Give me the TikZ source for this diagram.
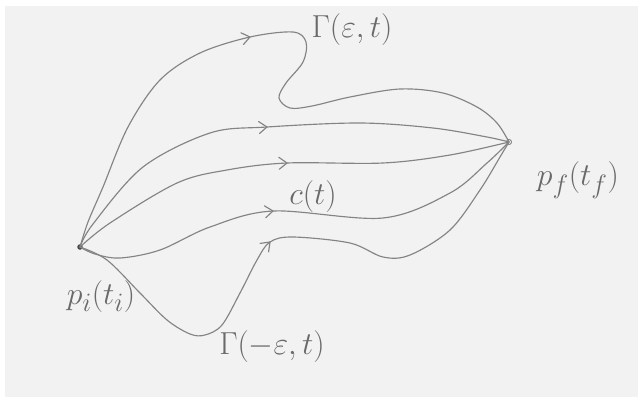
\documentclass[tikz,border=0pt]{standalone}
\definecolor{paper}{RGB}{242,242,242}
\definecolor{lead}{RGB}{132,132,132}
\definecolor{leadtext}{RGB}{105,105,105}
\definecolor{dotc}{RGB}{70,70,70}
\begin{document}
\begin{tikzpicture}[x=1pt,y=-1pt,
  pencil/.style={draw=lead, line width=1.15pt, line cap=round, line join=round},
  lbl/.style={text=leadtext, font=\Huge, scale=1.28, inner sep=0pt},
  chev/.pic={\draw[pencil] (-8,-6) -- (0,0) -- (-8,6);}]
\useasboundingbox (0,0) rectangle (638,397);
\fill[white] (0,0) rectangle (638,397);
\fill[paper] (5,6) rectangle (638,397);
% end points
\node[circle, fill=dotc, inner sep=0pt, minimum size=5.5pt] (pi) at (80,247) {};
\node[circle, draw=lead, line width=1pt, fill=white, inner sep=0pt, minimum size=5pt] (pf) at (509,142) {};
% Gamma(eps,t)
\draw[pencil] plot[smooth, tension=0.55] coordinates {(pi.center) (88,222) (103,187) (128,127) (160,80) (200,53) (250,37) (293,32) (306,42) (303,62) (286,83) (279,98) (290,108) (312,106) (350,97) (400,89) (443,93) (477,107) (497,123) (pf.center)};
% middle curves
\draw[pencil] plot[smooth, tension=0.55] coordinates {(pi.center) (93,224) (143,167) (210,133) (267,127) (360,123) (433,128) (487,137) (pf.center)};
\draw[pencil] plot[smooth, tension=0.55] coordinates {(pi.center) (110,223) (177,183) (227,170) (287,163) (383,163) (450,155) (pf.center)};
% c(t)
\draw[pencil] plot[smooth, tension=0.55] coordinates {(pi.center) (95,254) (120,258) (160,250) (210,227) (273,211) (383,218) (450,193) (487,163) (pf.center)};
% Gamma(-eps,t)
\draw[pencil] plot[smooth, tension=0.55] coordinates {(pi.center) (107,260) (140,293) (167,320) (190,334) (205,335) (222,325) (240,293) (257,260) (270,242) (293,237) (350,243) (383,257) (410,255) (450,230) (480,190) (500,157) (pf.center)};
% arrowheads
\pic[rotate=12] at (250,37) {chev};
\pic[rotate=4] at (267,127) {chev};
\pic[rotate=2] at (287,163) {chev};
\pic[rotate=6] at (273,211) {chev};
\pic[rotate=45] at (270,242) {chev};
% labels
\node[lbl] (lgp) at (352,30) {$\Gamma(\varepsilon,t)$};
\node[lbl] (lgm) at (272,347) {$\Gamma(-\varepsilon,t)$};
\node[lbl] (lc) at (313,197) {$c(t)$};
\node[lbl] (lpi) at (101,297) {$p_i(t_i)$};
\node[lbl] (lpf) at (578,180) {$p_f(t_f)$};
\end{tikzpicture}
\end{document}
